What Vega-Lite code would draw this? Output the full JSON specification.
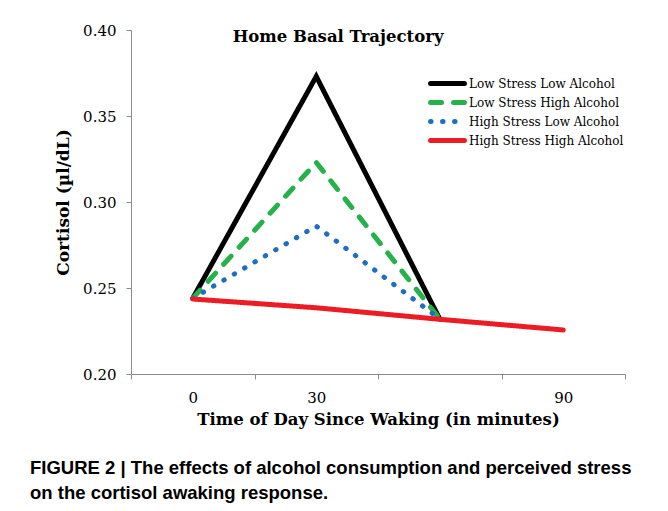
{
  "$schema": "https://vega.github.io/schema/vega-lite/v6.json",
  "width": 494,
  "height": 344,
  "autosize": {"type": "none"},
  "padding": {"left": 131, "top": 30, "right": 43, "bottom": 137},
  "background": "white",
  "config": {
    "view": {"stroke": null},
    "font": "DejaVu Serif",
    "axis": {"grid": false, "domainColor": "#8c8c8c", "tickColor": "#8c8c8c", "labelColor": "#000", "titleColor": "#000", "labelFont": "DejaVu Serif", "titleFont": "DejaVu Serif", "labelFontWeight": "normal", "labelFontSize": 15, "titleFontSize": 16.5, "titleFontWeight": "bold", "tickSize": 5, "domainWidth": 1, "tickWidth": 1},
    "legend": {"symbolType": "stroke", "symbolSize": 1150, "symbolStrokeWidth": 5, "labelFont": "DejaVu Serif", "labelFontSize": 12, "labelColor": "#000", "labelOffset": 2, "rowPadding": 0, "clipHeight": 19},
    "title": {"font": "Liberation Sans", "fontSize": 18.5, "fontWeight": "bold", "color": "#000"}
  },
  "title": {
    "text": ["FIGURE 2 | The effects of alcohol consumption and perceived stress", "on the cortisol awaking response."],
    "orient": "bottom",
    "anchor": "start",
    "frame": "group",
    "dx": -101,
    "offset": 31,
    "lineHeight": 25
  },
  "layer": [
    {
      "data": {"values": [
        {"series": "Low Stress Low Alcohol", "minutes": 0, "cortisol": 0.244},
        {"series": "Low Stress Low Alcohol", "minutes": 30, "cortisol": 0.373},
        {"series": "Low Stress Low Alcohol", "minutes": 60, "cortisol": 0.232},
        {"series": "Low Stress High Alcohol", "minutes": 0, "cortisol": 0.244},
        {"series": "Low Stress High Alcohol", "minutes": 30, "cortisol": 0.323},
        {"series": "Low Stress High Alcohol", "minutes": 60, "cortisol": 0.232},
        {"series": "High Stress Low Alcohol", "minutes": 0, "cortisol": 0.244},
        {"series": "High Stress Low Alcohol", "minutes": 30, "cortisol": 0.286},
        {"series": "High Stress Low Alcohol", "minutes": 60, "cortisol": 0.232},
        {"series": "High Stress High Alcohol", "minutes": 0, "cortisol": 0.2436},
        {"series": "High Stress High Alcohol", "minutes": 30, "cortisol": 0.2385},
        {"series": "High Stress High Alcohol", "minutes": 60, "cortisol": 0.2318},
        {"series": "High Stress High Alcohol", "minutes": 90, "cortisol": 0.2256}
      ]},
      "mark": {"type": "line", "strokeWidth": 5, "strokeCap": "round", "strokeJoin": "miter", "clip": false},
      "encoding": {
        "x": {
          "field": "minutes", "type": "quantitative",
          "scale": {"domain": [-15, 105], "nice": false, "zero": false},
          "axis": {
            "values": [-15, 0, 15, 30, 45, 75, 90, 105],
            "labelExpr": "(datum.value == 0 || datum.value == 30 || datum.value == 90) ? datum.label : ''",
            "tickOpacity": {"condition": {"test": "datum.value == 0 || datum.value == 30 || datum.value == 90", "value": 0}, "value": 1},
            "title": "Time of Day Since Waking (in minutes)",
            "labelPadding": 11,
            "titlePadding": 6,
            "labelFlush": false
          }
        },
        "y": {
          "field": "cortisol", "type": "quantitative",
          "scale": {"domain": [0.2, 0.4], "nice": false, "zero": false},
          "axis": {
            "values": [0.2, 0.25, 0.3, 0.35, 0.4],
            "format": ".2f",
            "title": "Cortisol (µl/dL)",
            "titleFontSize": 17,
            "labelPadding": 10,
            "titlePadding": 10
          }
        },
        "color": {
          "field": "series", "type": "nominal",
          "scale": {"domain": ["Low Stress Low Alcohol", "Low Stress High Alcohol", "High Stress Low Alcohol", "High Stress High Alcohol"], "range": ["#000000", "#25b24a", "#1f6ec0", "#ec1c24"]},
          "legend": {"title": null, "orient": "none", "legendX": 297, "legendY": 44, "encode": {"symbols": {"update": {"strokeCap": {"value": "round"}}}}}
        },
        "strokeDash": {
          "field": "series", "type": "nominal",
          "scale": {"domain": ["Low Stress Low Alcohol", "Low Stress High Alcohol", "High Stress Low Alcohol", "High Stress High Alcohol"], "range": [[1, 0], [11, 12], [0.5, 11.5], [1, 0]]},
          "legend": {"title": null, "orient": "none", "legendX": 297, "legendY": 44, "encode": {"symbols": {"update": {"strokeCap": {"value": "round"}}}}}
        }
      }
    },
    {
      "data": {"values": [{"label": "Home Basal Trajectory", "minutes": 35.3, "cortisol": 0.396}]},
      "mark": {"type": "text", "font": "DejaVu Serif", "fontWeight": "bold", "fontSize": 16.5, "baseline": "middle", "align": "center", "color": "#000"},
      "encoding": {
        "x": {"field": "minutes", "type": "quantitative"},
        "y": {"field": "cortisol", "type": "quantitative"},
        "text": {"field": "label"}
      }
    }
  ]
}
